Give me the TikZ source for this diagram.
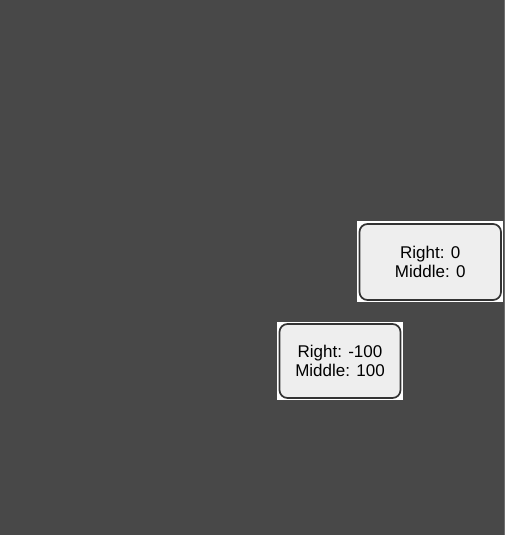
\documentclass[tikz,border=0pt]{standalone}
\usepackage{fontspec}
\setmainfont{Liberation Sans}
\usetikzlibrary{positioning}
\definecolor{canvas}{HTML}{484848}
\definecolor{strip}{HTML}{6E6E6E}
\definecolor{cardfill}{HTML}{EEEEEE}
\definecolor{cardline}{HTML}{333333}

\begin{document}
\begin{tikzpicture}[x=1pt,y=-1pt]
\tikzset{plate/.style={fill=white, draw=none, inner sep=0pt}}
\tikzset{card/.style={draw=cardline, fill=cardfill, line width=1.7pt, rounded corners=8pt,
    inner sep=0pt, align=center, font=\fontsize{17}{19.7}\selectfont}}

%% Background
\fill[canvas] (0,0) rectangle (505,535);
\fill[strip] (503.5,0) rectangle (505,535);
\useasboundingbox (0,0) rectangle (505,535);

%% Upper card
\node[plate, minimum width=146pt, minimum height=81pt] at (430,261.5) (plateA) {};
\node[card, minimum width=141.5pt, minimum height=76pt] at (430.25,262) (cardA) {Right: 0\\Middle: 0};

%% Lower card
\node[plate, minimum width=126pt, minimum height=78pt] at (340,361) (plateB) {};
\node[card, minimum width=121pt, minimum height=74pt] at (340,361) (cardB) {Right: -100\\Middle: 100};

\end{tikzpicture}
\end{document}
